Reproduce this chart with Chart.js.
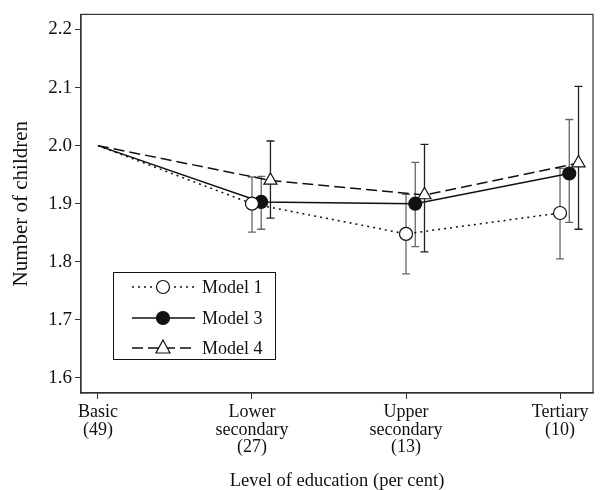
<!DOCTYPE html>
<html>
<head>
<meta charset="utf-8">
<script src="https://cdn.jsdelivr.net/npm/chart.js@4/dist/chart.umd.min.js"></script>
<style>
  html, body { margin: 0; padding: 0; background: #fff; }
  #wrap { width: 610px; height: 490px; }
</style>
</head>
<body>
<div id="wrap"><canvas id="chart" width="610" height="490"></canvas></div>
<script>
// categories along the x axis, with the share in per cent
const categories = [['Basic', '(49)'], ['Lower', 'secondary', '(27)'], ['Upper', 'secondary', '(13)'], ['Tertiary', '(10)']];
const yTicks = [1.6, 1.7, 1.8, 1.9, 2.0, 2.1, 2.2];

// point estimates
const model1 = [2.0, 1.900, 1.848, 1.884];
const model3 = [2.0, 1.903, 1.900, 1.952];
const model4 = [2.0, 1.940, 1.915, 1.970];

// confidence intervals (none for the reference category)
const model1Low = [null, 1.851, 1.779, 1.805];
const model1High = [null, 1.946, 1.916, 1.961];
const model3Low = [null, 1.856, 1.826, 1.868];
const model3High = [null, 1.947, 1.971, 2.045];
const model4Low = [null, 1.875, 1.817, 1.856];
const model4High = [null, 2.008, 2.002, 2.102];

// small horizontal shift so the three models don't overlap
const shifts = [0.0, 0.06, 0.12];

const serif = '"Liberation Serif", "DejaVu Serif", serif';

function toPoints(values, shift) {
    return values.map((v, i) => ({ x: i === 0 ? 0 : i + shift, y: v }));
}

function makeSet(label, values, low, high, shift, opts) {
    return Object.assign({
        label: label,
        data: toPoints(values, shift),
        low: low,
        high: high,
        borderColor: '#111',
        borderWidth: 1.5,
        pointRadius: [0, 6.5, 6.5, 6.5],
        pointHoverRadius: [0, 6.5, 6.5, 6.5],
        pointBorderWidth: 1.2,
        pointBorderColor: '#111',
        tension: 0,
        fill: false
    }, opts);
}

const errorBars = {
    id: 'errorBars',
    beforeDatasetsDraw(chart) {
        const ctx = chart.ctx;
        const y = chart.scales.y;
        chart.data.datasets.forEach((ds, di) => {
            const meta = chart.getDatasetMeta(di);
            ctx.save();
            ctx.strokeStyle = ds.barColor;
            ctx.lineWidth = 1.3;
            ctx.setLineDash([]);
            meta.data.forEach((pt, i) => {
                if (ds.low[i] == null) return;
                const top = y.getPixelForValue(ds.high[i]);
                const bot = y.getPixelForValue(ds.low[i]);
                ctx.beginPath();
                ctx.moveTo(pt.x, top); ctx.lineTo(pt.x, bot);
                ctx.moveTo(pt.x - 4, top); ctx.lineTo(pt.x + 4, top);
                ctx.moveTo(pt.x - 4, bot); ctx.lineTo(pt.x + 4, bot);
                ctx.stroke();
            });
            ctx.restore();
        });
    }
};

const frameAndLegend = {
    id: 'frameAndLegend',
    afterDraw(chart) {
        const ctx = chart.ctx;
        const a = chart.chartArea;
        ctx.save();
        ctx.strokeStyle = '#333';
        ctx.lineWidth = 1.2;
        ctx.strokeRect(a.left, a.top, a.right - a.left, a.bottom - a.top);

        // legend box
        const bx = 113, by = 272, bw = 162, bh = 87;
        ctx.fillStyle = '#fff';
        ctx.fillRect(bx, by, bw, bh);
        ctx.strokeStyle = '#111';
        ctx.lineWidth = 1;
        ctx.strokeRect(bx + 0.5, by + 0.5, bw, bh);
        const rows = [287, 318, 348];
        chart.data.datasets.forEach((ds, i) => {
            const ry = rows[i];
            ctx.strokeStyle = '#111';
            ctx.lineWidth = ds.borderWidth;
            ctx.setLineDash(ds.borderDash || []);
            ctx.beginPath();
            ctx.moveTo(132, ry); ctx.lineTo(195, ry);
            ctx.stroke();
            ctx.setLineDash([]);
            ctx.lineWidth = 1.2;
            ctx.fillStyle = ds.pointBackgroundColor;
            ctx.beginPath();
            if (ds.pointStyle === 'triangle') {
                ctx.moveTo(163, ry - 8); ctx.lineTo(170, ry + 5); ctx.lineTo(156, ry + 5); ctx.closePath();
            } else {
                ctx.arc(163, ry, 6.5, 0, Math.PI * 2);
            }
            ctx.fill();
            ctx.stroke();
            ctx.fillStyle = '#111';
            ctx.font = '18px ' + serif;
            ctx.textBaseline = 'middle';
            ctx.fillText(ds.label, 202, ry + 1);
        });
        ctx.restore();
    }
};

new Chart(document.getElementById('chart'), {
    type: 'line',
    data: {
        datasets: [
            makeSet('Model 1', model1, model1Low, model1High, shifts[0], { borderDash: [2, 4], pointBackgroundColor: '#fff', barColor: '#666' }),
            makeSet('Model 3', model3, model3Low, model3High, shifts[1], { pointBackgroundColor: '#111', barColor: '#666' }),
            makeSet('Model 4', model4, model4Low, model4High, shifts[2], { borderDash: [11, 5], pointStyle: 'triangle', pointRadius: [0, 7.5, 7.5, 7.5], pointBackgroundColor: '#fff', barColor: '#222' })
        ]
    },
    options: {
        responsive: false,
        animation: false,
        layout: { padding: { top: 14, right: 17, left: 0, bottom: 0 } },
        plugins: { legend: { display: false }, tooltip: { enabled: false } },
        scales: {
            x: {
                type: 'linear',
                min: -0.110,
                max: 3.214,
                afterBuildTicks: (axis) => { axis.ticks = categories.map((c, i) => ({ value: i })); },
                afterFit: (axis) => { axis.height = 97; },
                ticks: {
                    callback: (v) => categories[v],
                    color: '#111',
                    font: { family: serif, size: 18, lineHeight: 0.97 },
                    padding: 5,
                    maxRotation: 0,
                    autoSkip: false
                },
                grid: { drawOnChartArea: false, drawTicks: true, tickLength: 6, color: '#333' },
                border: { display: true, color: '#333', width: 1.2 },
                title: { display: true, text: 'Level of education (per cent)', color: '#111', font: { family: serif, size: 18.5, lineHeight: 1 }, padding: { top: 0, bottom: 0 } }
            },
            y: {
                min: 1.574,
                max: 2.226,
                afterBuildTicks: (axis) => { axis.ticks = yTicks.map((v) => ({ value: v })); },
                afterFit: (axis) => { axis.width = 81; },
                ticks: {
                    callback: (v) => v.toFixed(1),
                    color: '#111',
                    font: { family: serif, size: 19 },
                    padding: 3
                },
                grid: { drawOnChartArea: false, drawTicks: true, tickLength: 6, color: '#333' },
                border: { display: true, color: '#333', width: 1.2 },
                title: { display: true, text: 'Number of children', color: '#111', font: { family: serif, size: 21, lineHeight: 1 }, padding: { top: 11, bottom: 0 } }
            }
        }
    },
    plugins: [errorBars, frameAndLegend]
});
</script>
</body>
</html>
